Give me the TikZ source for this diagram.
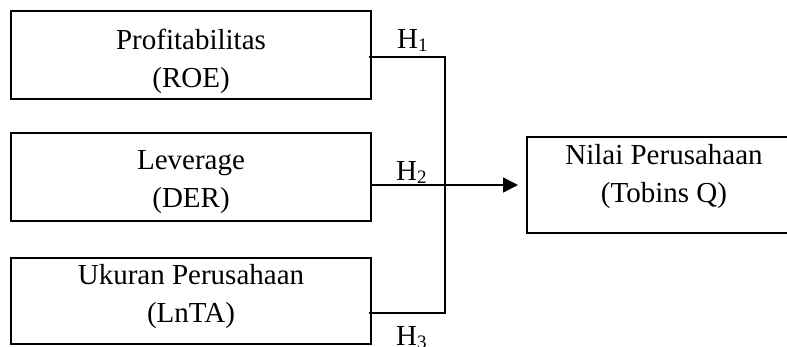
\documentclass[tikz,border=0pt]{standalone}
\usepackage{fontspec}
\setmainfont{Liberation Serif}
\usetikzlibrary{arrows.meta,calc}

\tikzset{
  varbox/.style={draw=black, line width=1.1pt, rectangle, inner sep=0pt,
                 outer sep=0pt, minimum width=360pt, minimum height=88pt},
  boxtext/.style={align=center, inner sep=0pt,
                  font=\fontsize{29}{38}\selectfont},
  hyplabel/.style={anchor=base west, inner sep=0pt,
                   font=\fontsize{29}{34}\selectfont},
  link/.style={line width=1.7pt, draw=black},
}
\newcommand{\hyp}[1]{H\raisebox{-3pt}{\fontsize{19}{19}\selectfont #1}}

\begin{document}
\begin{tikzpicture}[x=1pt, y=-1pt]
  \useasboundingbox (0,0) rectangle (787,346);

  % independent variables
  \node[varbox] (b1) at (191,55) {};
  \node[varbox] (b2) at (191,177) {};
  \node[varbox, minimum height=86pt] (b3) at (191,301) {};
  \node[boxtext] (t1) at (191,61)  {Profitabilitas\\(ROE)};
  \node[boxtext] (t2) at (191,182) {Leverage\\(DER)};
  \node[boxtext] (t3) at (191,297) {Ukuran Perusahaan\\(LnTA)};

  % dependent variable
  \node[varbox, minimum width=273pt, minimum height=96pt] (nv) at (663.5,185) {};
  \node[boxtext] (tn) at (664,177) {Nilai Perusahaan\\(Tobins Q)};

  % hypothesis labels
  \node[hyplabel] (h1) at (397,48)  {\hyp{1}};
  \node[hyplabel] (h2) at (396,180) {\hyp{2}};
  \node[hyplabel] (h3) at (396,345) {\hyp{3}};

  % connectors
  \coordinate (jt) at (445,57);
  \coordinate (jb) at (445,313);
  \draw[link] ($(b1.east)+(-2,2)$) -- (jt) -- (jb) -- ($(b3.east)+(-2,12)$);
  \draw[link, -{Triangle[length=15pt,width=15pt]}, shorten >=9pt]
    ($(b2.east)+(0,8)$) -- (nv.west |- 0,185);
\end{tikzpicture}
\end{document}
